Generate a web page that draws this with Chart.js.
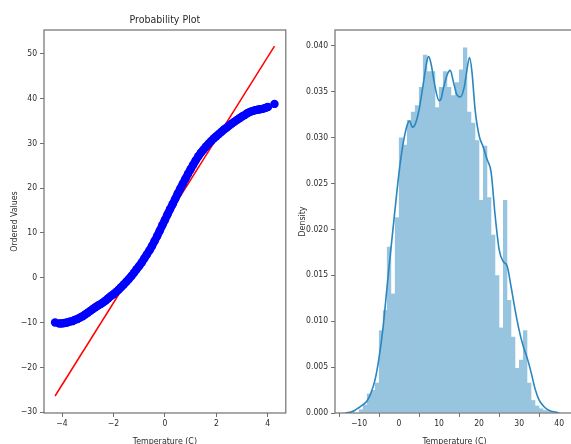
<!DOCTYPE html>
<html>
<head>
<meta charset="utf-8">
<script src="https://cdn.jsdelivr.net/npm/chart.js@4.4.1/dist/chart.umd.min.js"></script>
<style>
  html, body { margin: 0; padding: 0; background: #fff; overflow: hidden; }
  #wrap { position: relative; width: 571px; height: 444px; overflow: hidden; }
  canvas { position: absolute; top: 0; }
  #qq { left: 0; }
  #dist { left: 290px; }
</style>
</head>
<body>
<div id="wrap">
  <canvas id="qq" width="290" height="452"></canvas>
  <canvas id="dist" width="300" height="452"></canvas>
</div>
<script>
// ---------- Data: probability plot ----------
const qqTheoretical = [
  -4.27, -4.1, -4.0, -3.9, -3.8, -3.7, -3.6, -3.5, -3.4, -3.3, -3.2, -3.1, -3.0,
  -2.9, -2.8, -2.7, -2.6, -2.5, -2.4, -2.3, -2.2, -2.1, -2.0, -1.9, -1.8, -1.7, -1.6,
  -1.5, -1.4, -1.3, -1.2, -1.1, -1.0, -0.9, -0.8, -0.7, -0.6, -0.5, -0.4, -0.3, -0.2,
  -0.1, 0.0, 0.1, 0.2, 0.3, 0.4, 0.5, 0.6, 0.7, 0.8, 0.9, 1.0, 1.1, 1.2, 1.3, 1.4,
  1.5, 1.6, 1.7, 1.8, 1.9, 2.0, 2.1, 2.2, 2.3, 2.4, 2.5, 2.6, 2.7, 2.8, 2.9, 3.0,
  3.1, 3.2, 3.3, 3.4, 3.5, 3.6, 3.7, 3.8, 3.9, 4.0, 4.26
];
const qqOrdered = [
  -10.0, -10.2, -10.2, -10.1, -10.0, -9.8, -9.7, -9.4, -9.2, -8.9, -8.6, -8.2, -7.8,
  -7.4, -7.0, -6.6, -6.2, -5.9, -5.5, -5.1, -4.6, -4.1, -3.7, -3.2, -2.7, -2.1, -1.5,
  -0.9, -0.3, 0.4, 1.1, 1.9, 2.6, 3.4, 4.3, 5.2, 6.1, 7.1, 8.2, 9.3, 10.5,
  11.7, 12.9, 14.1, 15.3, 16.4, 17.6, 18.8, 19.9, 21.0, 22.1, 23.2, 24.2, 25.2, 26.2, 27.1, 27.9,
  28.6, 29.3, 29.9, 30.5, 31.1, 31.6, 32.1, 32.6, 33.1, 33.5, 34.0, 34.4, 34.8, 35.2, 35.6, 36.0,
  36.3, 36.7, 37.0, 37.2, 37.4, 37.5, 37.6, 37.7, 37.9, 38.1, 38.8
];
const fitLineX = [-4.27, 4.26];
const fitLineY = [-26.4, 51.7];

const qqXTicks = [-4, -2, 0, 2, 4];
const qqYTicks = [-30, -20, -10, 0, 10, 20, 30, 40, 50];

// ---------- Data: distribution ----------
const binCenters = [
  -9.5, -8.5, -7.5, -6.5, -5.5, -4.5, -3.5, -2.5, -1.5, -0.5,
  0.5, 1.5, 2.5, 3.5, 4.5, 5.5, 6.5, 7.5, 8.5, 9.5,
  10.5, 11.5, 12.5, 13.5, 14.5, 15.5, 16.5, 17.5, 18.5, 19.5,
  20.5, 21.5, 22.5, 23.5, 24.5, 25.5, 26.5, 27.5, 28.5, 29.5,
  30.5, 31.5, 32.5, 33.5, 34.5, 35.5, 36.5, 37.5, 38.5
];
const binHeights = [
  0.0004, 0.0009, 0.0021, 0.0025, 0.0033, 0.0090, 0.0112, 0.0181, 0.0130, 0.0213,
  0.0300, 0.0292, 0.0319, 0.0328, 0.0335, 0.0355, 0.0390, 0.0372, 0.0372, 0.0333,
  0.0355, 0.0372, 0.0355, 0.0346, 0.0360, 0.0374, 0.0398, 0.0328, 0.0316, 0.0297,
  0.0232, 0.0291, 0.0235, 0.0194, 0.0150, 0.0093, 0.0232, 0.0123, 0.0083, 0.0049,
  0.0058, 0.0090, 0.0033, 0.0014, 0.0008, 0.0005, 0.0003, 0.0002, 0.0001
];
const kdeX = [
  -13.5, -12, -11, -10, -9, -8, -7, -6, -5, -4, -3, -2, -1, 0, 1, 2, 2.6, 3.4, 4, 5,
  6, 7, 7.4, 8, 9, 10, 10.5, 11, 12, 12.8, 13.5, 14.5, 15.3, 16.3, 17, 17.6, 18.2, 19, 20,
  21, 22, 23, 24, 25, 26, 27, 28, 29, 30, 31, 32, 33, 34, 35, 36, 37, 38, 39, 40
];
const kdeY = [
  0, 0.0001, 0.0003, 0.0006, 0.0009, 0.0013, 0.0022, 0.0036, 0.0060, 0.0093, 0.0137, 0.0180,
  0.0222, 0.0262, 0.0293, 0.0313, 0.0318, 0.0311, 0.0314, 0.0330,
  0.0357, 0.0384, 0.0388, 0.0380, 0.0355, 0.0340, 0.0342, 0.0352, 0.0368, 0.0373, 0.0362,
  0.0346, 0.0344, 0.0355, 0.0375, 0.0387, 0.0372, 0.0330, 0.0302,
  0.0290, 0.0276, 0.0262, 0.0215, 0.0178, 0.0165, 0.0160, 0.0137, 0.0112, 0.0090, 0.0073,
  0.0060, 0.0044, 0.0026, 0.0014, 0.0008, 0.0004, 0.0002, 0.0001, 0
];
const distXTicks = [-10, 0, 10, 20, 30, 40];
const distYTicks = [0, 0.005, 0.01, 0.015, 0.02, 0.025, 0.03, 0.035, 0.04];

// ---------- Style ----------
const FONT = "'Liberation Sans Narrow', 'DejaVu Sans Condensed', 'Arial Narrow', sans-serif";
const TEXT = '#2b2b2b';
const SPINE = '#707070';
const BLUE = '#0000ff';
const TICK_SIZE = 8.5;
const LABEL_SIZE = 8.8;

Chart.defaults.font.family = FONT;
Chart.defaults.color = TEXT;
Chart.defaults.animation = false;

// ---------- Helpers ----------
function minusSign(v) {
  return String(v).replace('-', '\u2212');
}

function fixedTicks(list) {
  return scale => { scale.ticks = list.map(v => ({ value: v })); };
}

// frame round the plot area, like matplotlib spines
const boxPlugin = {
  id: 'box',
  afterDraw(chart) {
    const a = chart.chartArea;
    const ctx = chart.ctx;
    ctx.save();
    ctx.strokeStyle = SPINE;
    ctx.lineWidth = 1.2;
    ctx.strokeRect(a.left, a.top, a.right - a.left, a.bottom - a.top);
    ctx.restore();
  }
};

// title centred over the axes, not the whole canvas
const axesTitlePlugin = {
  id: 'axesTitle',
  afterDraw(chart, args, opts) {
    if (!opts || !opts.text) return;
    const a = chart.chartArea;
    const ctx = chart.ctx;
    ctx.save();
    ctx.font = `normal 10.5px ${FONT}`;
    ctx.fillStyle = TEXT;
    ctx.textAlign = 'center';
    ctx.textBaseline = 'middle';
    ctx.fillText(opts.text, (a.left + a.right) / 2, 20);
    ctx.restore();
  }
};

const tickGrid = { drawOnChartArea: false, drawTicks: true, tickLength: 4, color: SPINE };
const lastQQ = qqTheoretical.length - 1;

// ---------- Probability plot ----------
new Chart(document.getElementById('qq'), {
  type: 'scatter',
  data: {
    datasets: [
      {
        data: qqTheoretical.map((x, i) => ({ x, y: qqOrdered[i] })),
        backgroundColor: BLUE,
        borderColor: BLUE,
        borderWidth: 8,
        borderCapStyle: 'round',
        borderJoinStyle: 'round',
        showLine: true,
        // dense markers: the band is the run of overlapping dots; tails stay separate
        segment: {
          borderColor: c => (c.p0DataIndex === 0 || c.p1DataIndex === lastQQ) ? 'transparent' : BLUE
        },
        pointBorderWidth: 0,
        pointRadius: 4.2,
        pointHoverRadius: 4.2
      },
      {
        data: fitLineX.map((x, i) => ({ x, y: fitLineY[i] })),
        showLine: true,
        borderColor: '#ff0000',
        borderWidth: 1.5,
        pointRadius: 0
      }
    ]
  },
  options: {
    responsive: false,
    layout: { padding: { left: 0, right: 3, top: 30, bottom: 0 } },
    plugins: {
      legend: { display: false },
      tooltip: { enabled: false },
      axesTitle: { text: 'Probability Plot' }
    },
    scales: {
      x: {
        type: 'linear',
        min: -4.7,
        max: 4.7,
        afterBuildTicks: fixedTicks(qqXTicks),
        afterFit: s => { s.height = 39; },
        grid: tickGrid,
        border: { display: false },
        ticks: { font: { size: TICK_SIZE }, padding: 2, callback: v => minusSign(v) },
        title: { display: true, text: 'Temperature (C)', font: { size: LABEL_SIZE }, padding: { top: 0, bottom: 5 } }
      },
      y: {
        min: -30.2,
        max: 55.3,
        afterBuildTicks: fixedTicks(qqYTicks),
        afterFit: s => { s.width = 44; },
        grid: tickGrid,
        border: { display: false },
        ticks: { font: { size: TICK_SIZE }, padding: 3, callback: v => minusSign(v) },
        title: { display: true, text: 'Ordered Values', font: { size: LABEL_SIZE }, padding: { top: 9, bottom: 0 } }
      }
    }
  },
  plugins: [boxPlugin, axesTitlePlugin]
});

// ---------- Distribution ----------
new Chart(document.getElementById('dist'), {
  type: 'bar',
  data: {
    datasets: [
      {
        type: 'line',
        data: kdeX.map((x, i) => ({ x, y: kdeY[i] })),
        borderColor: '#2a86be',
        borderWidth: 1.6,
        pointRadius: 0,
        cubicInterpolationMode: 'monotone',
        order: 0
      },
      {
        type: 'bar',
        data: binCenters.map((x, i) => ({ x, y: binHeights[i] })),
        backgroundColor: '#97c4df',
        borderWidth: 0,
        barPercentage: 1.08,
        categoryPercentage: 1,
        order: 1
      }
    ]
  },
  options: {
    responsive: false,
    layout: { padding: { left: 0, right: 16, top: 30, bottom: 0 } },
    plugins: { legend: { display: false }, tooltip: { enabled: false } },
    scales: {
      x: {
        type: 'linear',
        offset: false,
        min: -16,
        max: 43.7,
        afterBuildTicks: fixedTicks(distXTicks),
        afterFit: s => { s.height = 39; },
        grid: tickGrid,
        border: { display: false },
        ticks: { font: { size: TICK_SIZE }, padding: 2, callback: v => minusSign(v) },
        title: { display: true, text: 'Temperature (C)', font: { size: LABEL_SIZE }, padding: { top: 0, bottom: 5 } }
      },
      y: {
        min: 0,
        max: 0.0417,
        afterBuildTicks: fixedTicks(distYTicks),
        afterFit: s => { s.width = 45; },
        grid: tickGrid,
        border: { display: false },
        ticks: { font: { size: TICK_SIZE }, padding: 3, callback: v => v.toFixed(3) },
        title: { display: true, text: 'Density', font: { size: LABEL_SIZE }, padding: { top: 7, bottom: 0 } }
      }
    }
  },
  plugins: [boxPlugin]
});
</script>
</body>
</html>
